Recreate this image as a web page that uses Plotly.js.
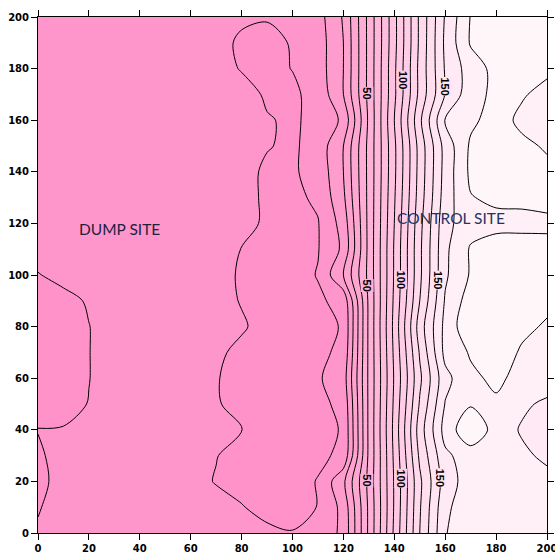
<!DOCTYPE html>
<html><head><meta charset="utf-8">
<script src="https://cdn.plot.ly/plotly-3.0.1.min.js"></script>
<style>html,body{margin:0;padding:0;background:#fff}#chart{width:555px;height:554px}</style>
</head><body><div id="chart"></div>
<script>
// grid coordinates (metres)
const xVals = [0,10,20,30,40,50,60,70,80,90,100,110,120,130,140,150,160,170,180,190,200];
const yVals = [0,10,20,30,40,50,60,70,80,90,100,110,120,130,140,150,160,170,180,190,200];

// values read row by row (y = 0 ... 200), x = 0 ... 200
const r000 = [0.8,3,4,4,4,4,4,4,3,2,0.5,4,12,52,92,130,159.5,166,166,165,165];
const r010 = [-0.5,3,4,4,4,4,4,3,0.5,-3,-4,0.3,13,52,91,129,158,166,166,165,164];
const r020 = [-1.5,2,4,4,4,4,3,-0.5,-3,-4,-4,0.5,18,53,91,128,155,165,166,164,163];
const r030 = [-1,2.5,4,4,4,4,3,0.3,-3,-4,-4,-2,2,52,92,132,158,165,166,162,158];
const r040 = [0.2,0.5,3,4,4,4,4,2,0.3,-3,-3,-2,0.5,52,93,135,164,178,166,159,154];
const r050 = [-3,-3,0.3,4,4,4,3,0.8,-3,-4,-4,-2,2,52,92,131,160.5,169,168.5,162,158];
const r060 = [-3,-3,-0.2,4,4,4,4,0.5,-3,-4,-4,-1,5,52,91,128,157,168,172,167,166];
const r070 = [-3,-3,-0.2,4,4,4,4,1.5,-2,-4,-4,-2,2,52,92,131,163,171,175,169,167];
const r080 = [-3,-3,-0.2,4,4,4,4,4,1,-3,-3,-2,0.5,52,93,135,163,178,176,172,169];
const r090 = [-3,-3,1,4,4,4,4,3,-0.5,-3,-3,-1.5,3,52,92,130,161,175,176,175,172];
const r100 = [-0.5,3,4,4,4,4,4,3,-1,-3,-4,0.5,20,53,91,128,158.5,171,175,175,174];
const r110 = [4,4,4,4,4,4,4,3,-0.2,-3,-3,-0.5,12,53,91,128,158,171,174.5,174,173];
const r120 = [4,4,4,4,4,4,4,4,3,-1.5,-3,-0.5,14,53,90,127,157,166,167,167.5,168];
const r130 = [4,4,4,4,4,4,4,4,3,-1.5,-2,1.5,18,53,89,125,155,169.5,172,172,173];
const r140 = [4,4,4,4,4,4,4,4,3,-1.5,-1,3,20,53,88,124,154,172,173,173.5,172];
const r150 = [4,4,4,4,4,4,4,4,4,0.5,-1.5,4,20,53,88,124,154,171.5,174,172,169];
const r160 = [4,4,4,4,4,4,4,4,4,0.5,-1,2,12,52,90,128,160.5,168,174,168,164];
const r170 = [4,4,4,4,4,4,4,4,3,-1,-1.5,3,20,53,88,123,150.5,166,172.5,171,167];
const r180 = [4,4,4,4,4,4,4,3,-0.5,-2,0.2,5,20,53,88,123,151,165,173,173,172];
const r190 = [4,4,4,4,4,4,4,2,-1,-2,0.5,5,20,53,87,122,152,171,173,174,174];
const r200 = [4,4,4,4,4,4,4,3,1,0.5,1,6,21,53,87,122,151,170.5,174,174,174];

const tickVals = [0,20,40,60,80,100,120,140,160,180,200];
const tickText = ['0','20','40','60','80','100','120','140','160','180','200'];
const contourLabels = ['50','100','150'];
const siteNames = ['DUMP SITE','CONTROL SITE'];

const zGrid = [r000,r010,r020,r030,r040,r050,r060,r070,r080,r090,r100,
               r110,r120,r130,r140,r150,r160,r170,r180,r190,r200];

const trace = {
  type: 'contour',
  x: xVals, y: yVals, z: zGrid,
  autocontour: false,
  contours: {start: 0, end: 180, size: 10, coloring: 'fill', showlines: true},
  line: {color: '#000', width: 1, smoothing: 0.9},
  zauto: false, zmin: -10, zmax: 190,
  colorscale: [[0,'#FF93C9'],[0.025,'#FF93C9'],[0.075,'#FF99CC'],[0.925,'#FFF2F8'],[0.975,'#FFFAFC'],[1,'#FFFAFC']],
  showscale: false,
  hoverinfo: 'skip'
};

const lblFont = {family: 'Liberation Sans, Arial, sans-serif', size: 11, color: '#000', weight: 'bold'};
const lblBg = {'50': '#FFB1D8', '100': '#FFCBE5', '150': '#FFE5F2'};
const lblSpots = [
  [contourLabels[0], 129.2, 170.5], [contourLabels[0], 129.2, 96], [contourLabels[0], 129.2, 20.5],
  [contourLabels[1], 143.4, 175.6], [contourLabels[1], 142.4, 98], [contourLabels[1], 142.5, 21.3],
  [contourLabels[2], 160.0, 173], [contourLabels[2], 157.2, 98], [contourLabels[2], 158.1, 21.3]
];
const annotations = lblSpots.map(s => ({
  x: s[1], y: s[2], xref: 'x', yref: 'y', text: s[0], showarrow: false,
  textangle: 90, font: lblFont, bgcolor: lblBg[s[0]], borderpad: 0
}));
annotations.push({x: 32.2, y: 117.8, xref: 'x', yref: 'y', text: siteNames[0], showarrow: false,
  font: {family: 'Lato, Open Sans, sans-serif', size: 15.5, color: '#1c2240'}});
annotations.push({x: 162.3, y: 122, xref: 'x', yref: 'y', text: siteNames[1], showarrow: false,
  font: {family: 'Lato, Open Sans, sans-serif', size: 15.5, color: '#1f3560'}});

const axisCommon = {
  range: [0, 200], tickvals: tickVals, ticktext: tickText,
  ticks: 'outside', ticklen: 6, tickwidth: 1, tickcolor: '#000',
  showline: true, linecolor: '#000', linewidth: 1, mirror: 'ticks',
  showgrid: false, zeroline: false,
  tickfont: {family: 'DejaVu Sans, sans-serif', size: 10, color: '#000', weight: 'bold'}
};

const layout = {
  width: 555, height: 554,
  margin: {l: 38, r: 8, t: 17, b: 21},
  paper_bgcolor: '#fff', plot_bgcolor: '#fff',
  xaxis: Object.assign({}, axisCommon, {ticklabelstandoff: 0, ticklabeloverflow: 'allow'}),
  yaxis: Object.assign({}, axisCommon, {ticklabeloverflow: 'allow'}),
  annotations: annotations,
  showlegend: false
};

Plotly.newPlot('chart', [trace], layout, {staticPlot: true, displayModeBar: false});
</script>
</body></html>
